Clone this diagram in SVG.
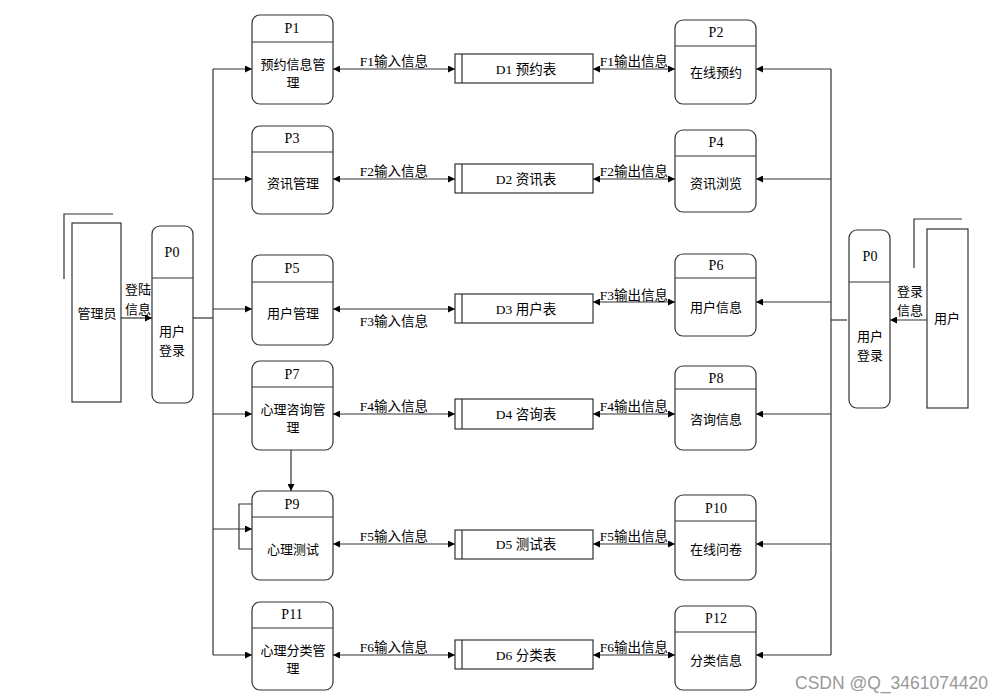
<svg xmlns="http://www.w3.org/2000/svg" width="1007" height="700" viewBox="0 0 1007 700">
<defs>
<marker id="ah" viewBox="0 0 10 10" refX="10" refY="5" markerWidth="7" markerHeight="7" markerUnits="userSpaceOnUse" orient="auto-start-reverse">
<path d="M0,0 L10,5 L0,10 z" fill="#000"/>
</marker>
<style>
.box{fill:#fff;stroke:#333;stroke-width:1.2}
.ln{fill:none;stroke:#333;stroke-width:1.2}
.ar{fill:none;stroke:#333;stroke-width:1.2;marker-end:url(#ah)}
.da{fill:none;stroke:#333;stroke-width:1.2;marker-start:url(#ah);marker-end:url(#ah)}
text{font-family:"Liberation Serif","Noto Sans CJK SC",serif;font-size:13px;fill:#000;text-anchor:middle;dominant-baseline:central}
.pl{font-size:14px}
.fl{font-size:13.5px}
.wm{font-family:"Liberation Sans","Noto Sans CJK SC",sans-serif;font-size:17.5px;fill:#999;text-anchor:start}
</style>
</defs>
<rect width="1007" height="700" fill="#fff"/>

<g id="connectors">
<path class="ln" d="M213,69 V655"/>
<path class="ln" d="M193,318 H213"/>
<path class="ar" d="M213,69 H252"/>
<path class="ar" d="M213,179 H252"/>
<path class="ar" d="M213,309 H252"/>
<path class="ar" d="M213,414 H252"/>
<path class="ar" d="M213,529 H252"/>
<path class="ar" d="M213,655 H252"/>
<path class="ar" d="M121,318 H152"/>
<path class="ln" d="M831,69 V655"/>
<path class="ln" d="M831,320 H847"/>
<path class="ar" d="M831,69 H756"/>
<path class="ar" d="M831,179 H756"/>
<path class="ar" d="M831,302 H756"/>
<path class="ar" d="M831,414 H756"/>
<path class="ar" d="M831,544 H756"/>
<path class="ar" d="M831,655 H756"/>
<path class="ar" d="M927,320 H890"/>
<path class="ar" d="M291,450 V491"/>
<path class="ln" d="M252,504 H239 V549 H252"/>
<path class="da" d="M333,69 H455"/>
<path class="da" d="M593,69 H675"/>
<path class="da" d="M333,179 H455"/>
<path class="da" d="M593,179 H675"/>
<path class="da" d="M333,309 H455"/>
<path class="da" d="M593,302 H675"/>
<path class="da" d="M333,414 H455"/>
<path class="da" d="M593,414 H675"/>
<path class="da" d="M333,544 H455"/>
<path class="da" d="M593,544 H675"/>
<path class="da" d="M333,655 H455"/>
<path class="da" d="M593,655 H675"/>
<text class="fl" x="394" y="61">F1输入信息</text>
<text class="fl" x="634" y="61">F1输出信息</text>
<text class="fl" x="394" y="171">F2输入信息</text>
<text class="fl" x="634" y="171">F2输出信息</text>
<text class="fl" x="394" y="321">F3输入信息</text>
<text class="fl" x="634" y="295">F3输出信息</text>
<text class="fl" x="394" y="406">F4输入信息</text>
<text class="fl" x="634" y="406">F4输出信息</text>
<text class="fl" x="394" y="536">F5输入信息</text>
<text class="fl" x="634" y="536">F5输出信息</text>
<text class="fl" x="394" y="647">F6输入信息</text>
<text class="fl" x="634" y="647">F6输出信息</text>
<text x="138" y="289">登陆</text>
<text x="138" y="309">信息</text>
<text x="910" y="291">登录</text>
<text x="910" y="310">信息</text>
</g>

<g id="admin">
<path class="ln" d="M64,279 V214 H113"/>
<rect class="box" x="72" y="223" width="49" height="179"/>
<text x="97" y="313">管理员</text>
</g>

<g id="P0-left">
<rect class="box" x="152" y="226" width="41" height="177" rx="8"/>
<path class="ln" d="M152,278 H193"/>
<text class="pl" x="172" y="252">P0</text>
<text x="172" y="331">用户</text>
<text x="172" y="350">登录</text>
</g>

<g id="user">
<path class="ln" d="M914,268 V219 H962"/>
<rect class="box" x="927" y="229" width="41" height="179"/>
<text x="947" y="318">用户</text>
</g>

<g id="P0-right">
<rect class="box" x="849" y="230" width="41" height="178" rx="8"/>
<path class="ln" d="M849,282 H890"/>
<text class="pl" x="870" y="256">P0</text>
<text x="870" y="336">用户</text>
<text x="870" y="355">登录</text>
</g>

<g id="P1">
<rect class="box" x="252" y="15" width="81" height="89" rx="8"/>
<path class="ln" d="M252,42 H333"/>
<text class="pl" x="292" y="28">P1</text>
<text x="293" y="64">预约信息管</text>
<text x="293" y="82">理</text>
</g>
<g id="P2">
<rect class="box" x="675" y="20" width="81" height="84" rx="8"/>
<path class="ln" d="M675,46 H756"/>
<text class="pl" x="716" y="32">P2</text>
<text x="716" y="72">在线预约</text>
</g>
<g id="D1">
<rect class="box" x="455" y="54" width="138" height="29"/>
<path class="ln" d="M462,54 V83"/>
<text class="fl" x="526" y="69">D1 预约表</text>
</g>

<g id="P3">
<rect class="box" x="252" y="126" width="81" height="88" rx="8"/>
<path class="ln" d="M252,152 H333"/>
<text class="pl" x="292" y="138">P3</text>
<text x="293" y="183">资讯管理</text>
</g>
<g id="P4">
<rect class="box" x="675" y="130" width="81" height="82" rx="8"/>
<path class="ln" d="M675,156 H756"/>
<text class="pl" x="716" y="142">P4</text>
<text x="716" y="183">资讯浏览</text>
</g>
<g id="D2">
<rect class="box" x="455" y="164" width="138" height="29"/>
<path class="ln" d="M462,164 V193"/>
<text class="fl" x="526" y="179">D2 资讯表</text>
</g>

<g id="P5">
<rect class="box" x="252" y="255" width="81" height="90" rx="8"/>
<path class="ln" d="M252,282 H333"/>
<text class="pl" x="292" y="268">P5</text>
<text x="293" y="313">用户管理</text>
</g>
<g id="P6">
<rect class="box" x="675" y="254" width="81" height="82" rx="8"/>
<path class="ln" d="M675,278 H756"/>
<text class="pl" x="716" y="265">P6</text>
<text x="716" y="307">用户信息</text>
</g>
<g id="D3">
<rect class="box" x="455" y="294" width="138" height="29"/>
<path class="ln" d="M462,294 V323"/>
<text class="fl" x="526" y="309">D3 用户表</text>
</g>

<g id="P7">
<rect class="box" x="252" y="361" width="81" height="89" rx="8"/>
<path class="ln" d="M252,387 H333"/>
<text class="pl" x="292" y="374">P7</text>
<text x="293" y="409">心理咨询管</text>
<text x="293" y="427">理</text>
</g>
<g id="P8">
<rect class="box" x="675" y="366" width="81" height="84" rx="8"/>
<path class="ln" d="M675,389 H756"/>
<text class="pl" x="716" y="378">P8</text>
<text x="716" y="419">咨询信息</text>
</g>
<g id="D4">
<rect class="box" x="455" y="399" width="138" height="30"/>
<path class="ln" d="M462,399 V429"/>
<text class="fl" x="526" y="414">D4 咨询表</text>
</g>

<g id="P9">
<rect class="box" x="252" y="491" width="81" height="89" rx="8"/>
<path class="ln" d="M252,517 H333"/>
<text class="pl" x="292" y="504">P9</text>
<text x="293" y="549">心理测试</text>
</g>
<g id="P10">
<rect class="box" x="675" y="495" width="81" height="85" rx="8"/>
<path class="ln" d="M675,521 H756"/>
<text class="pl" x="716" y="508">P10</text>
<text x="716" y="549">在线问卷</text>
</g>
<g id="D5">
<rect class="box" x="455" y="530" width="138" height="29"/>
<path class="ln" d="M462,530 V559"/>
<text class="fl" x="526" y="544">D5 测试表</text>
</g>

<g id="P11">
<rect class="box" x="252" y="602" width="81" height="88" rx="8"/>
<path class="ln" d="M252,628 H333"/>
<text class="pl" x="292" y="614">P11</text>
<text x="293" y="650">心理分类管</text>
<text x="293" y="668">理</text>
</g>
<g id="P12">
<rect class="box" x="675" y="606" width="81" height="84" rx="8"/>
<path class="ln" d="M675,632 H756"/>
<text class="pl" x="716" y="618">P12</text>
<text x="716" y="660">分类信息</text>
</g>
<g id="D6">
<rect class="box" x="455" y="640" width="138" height="29"/>
<path class="ln" d="M462,640 V669"/>
<text class="fl" x="526" y="655">D6 分类表</text>
</g>

<text class="wm" x="795" y="683">CSDN @Q_3461074420</text>
</svg>
